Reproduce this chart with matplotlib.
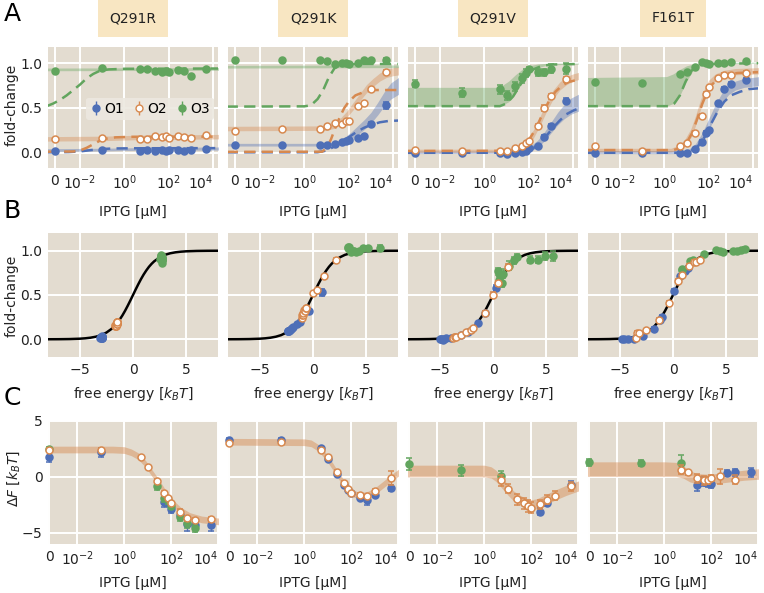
import numpy as np
import matplotlib
matplotlib.use('Agg')
import matplotlib.pyplot as plt

# ---------------- data ----------------
mutants = ['Q291R', 'Q291K', 'Q291V', 'F161T']
operators = ['O1', 'O2', 'O3']
iptg_uM = [0, 0.1, 5, 10, 25, 50, 75, 100, 250, 500, 1000, 5000]
nan = float('nan')

# measured fold-change (panel A / B y-values)
fc_Q291R_O1 = [0.02, 0.03, 0.02, 0.03, 0.02, 0.03, 0.02, 0.03, 0.03, 0.02, 0.03, 0.04]
fc_Q291R_O2 = [0.15, 0.16, 0.15, 0.15, 0.19, 0.18, 0.19, 0.17, 0.19, 0.18, 0.17, 0.20]
fc_Q291R_O3 = [0.91, 0.95, 0.94, 0.94, 0.91, 0.90, 0.91, 0.90, 0.92, 0.91, 0.86, 0.93]
fc_Q291K_O1 = [0.09, 0.09, 0.09, 0.09, 0.10, 0.12, 0.13, 0.14, 0.17, 0.19, 0.32, 0.53]
fc_Q291K_O2 = [0.24, 0.27, 0.27, 0.30, 0.33, 0.32, 0.35, 0.35, 0.52, 0.56, 0.71, 0.90]
fc_Q291K_O3 = [1.03, 1.04, 1.04, 1.02, 0.99, 1.00, 1.00, 0.99, 1.00, 1.03, 1.03, 1.03]
fc_Q291V_O1 = [0.00, 0.00, 0.00, -0.01, 0.00, 0.01, 0.02, 0.05, 0.08, 0.18, 0.30, 0.58]
fc_Q291V_O2 = [0.03, 0.02, 0.025, 0.025, 0.05, 0.08, 0.11, 0.13, 0.30, 0.50, 0.63, 0.82]
fc_Q291V_O3 = [0.77, 0.67, 0.71, 0.64, 0.74, 0.83, 0.89, 0.93, 0.90, 0.90, 0.94, 0.94]
fc_F161T_O1 = [0.00, 0.00, 0.00, 0.00, 0.04, 0.12, 0.22, 0.25, 0.55, 0.71, 0.77, 0.81]
fc_F161T_O2 = [0.07, 0.02, 0.07, 0.11, 0.22, 0.41, 0.66, 0.73, 0.83, 0.87, 0.87, 0.89]
fc_F161T_O3 = [0.79, 0.78, 0.88, 0.90, 0.96, 1.01, 1.00, 0.99, 1.00, 1.00, 1.01, 1.02]

err_Q291R_O1 = [0.01, 0.01, 0.01, 0.01, 0.01, 0.01, 0.01, 0.01, 0.01, 0.01, 0.01, 0.01]
err_Q291R_O2 = [0.01, 0.01, 0.01, 0.01, 0.01, 0.01, 0.01, 0.01, 0.01, 0.01, 0.01, 0.01]
err_Q291R_O3 = [0.01, 0.01, 0.01, 0.01, 0.01, 0.01, 0.01, 0.01, 0.01, 0.01, 0.01, 0.01]
err_Q291K_O1 = [0.01, 0.01, 0.01, 0.01, 0.01, 0.01, 0.01, 0.01, 0.01, 0.01, 0.02, 0.04]
err_Q291K_O2 = [0.01, 0.01, 0.01, 0.01, 0.01, 0.01, 0.01, 0.01, 0.01, 0.01, 0.01, 0.02]
err_Q291K_O3 = [0.01, 0.01, 0.01, 0.01, 0.01, 0.01, 0.01, 0.01, 0.01, 0.01, 0.01, 0.03]
err_Q291V_O1 = [0.01, 0.01, 0.01, 0.01, 0.01, 0.01, 0.01, 0.01, 0.01, 0.02, 0.02, 0.03]
err_Q291V_O2 = [0.01, 0.01, 0.01, 0.01, 0.01, 0.01, 0.01, 0.01, 0.02, 0.03, 0.03, 0.03]
err_Q291V_O3 = [0.04, 0.05, 0.05, 0.05, 0.05, 0.05, 0.04, 0.03, 0.04, 0.04, 0.05, 0.06]
err_F161T_O1 = [0.01, 0.01, 0.01, 0.01, 0.01, 0.02, 0.02, 0.02, 0.02, 0.02, 0.02, 0.02]
err_F161T_O2 = [0.02, 0.01, 0.01, 0.01, 0.02, 0.02, 0.02, 0.02, 0.02, 0.02, 0.02, 0.02]
err_F161T_O3 = [0.01, 0.01, 0.01, 0.01, 0.01, 0.01, 0.01, 0.01, 0.01, 0.01, 0.01, 0.02]

# inferred free energy [kBT] (panel B x-values)
F_Q291R_O1 = [-3.1, -3.0, -3.0, -3.0, -2.95, -2.95, -2.95, -2.95, -2.95, -2.9, -2.9, -2.9]
F_Q291R_O2 = [-1.7, -1.65, -1.6, -1.6, -1.55, -1.55, -1.55, -1.55, -1.55, -1.5, -1.5, -1.5]
F_Q291R_O3 = [2.5, 2.6, 2.65, 2.65, 2.7, 2.7, 2.7, 2.7, 2.7, 2.7, 2.7, 2.7]
F_Q291K_O1 = [-2.4, -2.4, -2.35, -2.3, -2.2, -2.1, -2.0, -1.9, -1.5, -1.2, -0.4, 0.8]
F_Q291K_O2 = [-1.05, -1.0, -0.95, -0.9, -0.85, -0.8, -0.7, -0.65, 0.0, 0.4, 1.0, 2.2]
F_Q291K_O3 = [3.3, 3.3, 3.35, 3.4, 3.6, 3.8, 3.9, 4.0, 4.3, 4.7, 5.2, 6.3]
F_Q291V_O1 = [-5.0, -4.9, -4.8, -4.7, -4.6, -4.4, -4.0, -3.0, -2.4, -1.4, -0.8, 0.3]
F_Q291V_O2 = [-3.7, -3.8, -3.6, -3.5, -3.0, -2.5, -2.1, -1.9, -0.8, 0.0, 0.5, 1.4]
F_Q291V_O3 = [0.5, 0.6, 0.7, 0.8, 0.9, 1.5, 2.0, 2.3, 3.5, 4.2, 4.9, 5.6]
F_F161T_O1 = [-4.8, -4.6, -4.2, -3.7, -2.8, -1.8, -1.2, -1.0, 0.1, 0.7, 1.1, 1.4]
F_F161T_O2 = [-3.4, -3.5, -3.2, -2.5, -1.3, -0.4, 0.5, 0.8, 1.5, 2.0, 2.2, 2.5]
F_F161T_O3 = [0.8, 0.8, 1.6, 1.9, 2.9, 4.0, 4.4, 4.7, 5.6, 6.0, 6.4, 6.8]

# master curve (panel B), free energy vs fold-change
master_F = [-8, -7, -6, -5, -4.5, -4, -3.5, -3, -2.5, -2, -1.75, -1.5, -1.25, -1, -0.75, -0.5, -0.25,
            0, 0.25, 0.5, 0.75, 1, 1.25, 1.5, 1.75, 2, 2.5, 3, 3.5, 4, 4.5, 5, 6, 7, 8]
master_fc = [0.0003, 0.0009, 0.0025, 0.0067, 0.011, 0.018, 0.029, 0.047, 0.076, 0.119, 0.148, 0.182,
             0.223, 0.269, 0.321, 0.378, 0.438, 0.5, 0.562, 0.622, 0.679, 0.731, 0.777, 0.818, 0.852,
             0.881, 0.924, 0.953, 0.971, 0.982, 0.989, 0.9933, 0.9975, 0.9991, 0.9997]

# delta F (panel C)
dF_Q291R_O1 = [1.8, 2.2, nan, nan, nan, -2.2, -2.3, -2.9, -3.4, -4.2, -4.3, -4.3]
dF_Q291R_O2 = [2.4, 2.45, 1.75, 0.9, -0.35, -1.4, -1.85, -2.35, -3.1, -3.7, -3.85, -3.8]
dF_Q291R_O3 = [2.5, nan, nan, nan, -0.85, -1.9, -2.1, -2.6, -3.6, -4.1, -4.6, nan]
dF_Q291K_O1 = [3.3, 3.3, 2.55, 1.6, 0.3, -0.7, -1.15, -1.45, -1.9, -2.1, -1.6, -1.0]
dF_Q291K_O2 = [3.0, 3.15, 2.45, 1.75, 0.45, -0.55, -1.1, -1.4, -1.6, -1.75, -1.3, -0.1]
dF_Q291K_O3 = [nan, nan, nan, nan, nan, nan, nan, nan, nan, nan, nan, nan]
dF_Q291V_O1 = [nan, nan, nan, nan, nan, nan, nan, nan, -3.1, -2.3, nan, -0.7]
dF_Q291V_O2 = [nan, nan, -0.3, -1.05, -2.0, -2.35, -2.6, -2.75, -2.45, -2.05, -1.7, -0.85]
dF_Q291V_O3 = [1.15, 0.6, 0.1, nan, nan, nan, nan, nan, nan, nan, nan, nan]
dF_F161T_O1 = [nan, nan, nan, nan, -0.7, -0.45, -0.5, -0.65, nan, 0.35, 0.4, 0.4]
dF_F161T_O2 = [nan, nan, 0.65, 0.4, -0.1, -0.3, -0.3, -0.1, 0.05, nan, -0.25, nan]
dF_F161T_O3 = [1.3, 1.25, 1.2, nan, nan, nan, nan, nan, nan, nan, nan, nan]

dFerr_Q291R_O1 = [0.5, 0.4, 0, 0, 0, 0.5, 0.3, 0.3, 0.3, 0.6, 0.4, 0.5]
dFerr_Q291R_O2 = [0.15, 0.15, 0.1, 0.1, 0.15, 0.15, 0.15, 0.2, 0.2, 0.2, 0.2, 0.2]
dFerr_Q291R_O3 = [0.2, 0, 0, 0, 0.3, 0.3, 0.3, 0.3, 0.3, 0.5, 0.3, 0]
dFerr_Q291K_O1 = [0.15, 0.15, 0.15, 0.15, 0.15, 0.15, 0.15, 0.15, 0.2, 0.4, 0.2, 0.3]
dFerr_Q291K_O2 = [0.1, 0.1, 0.15, 0.15, 0.15, 0.15, 0.15, 0.15, 0.15, 0.15, 0.2, 0.6]
dFerr_Q291K_O3 = [0, 0, 0, 0, 0, 0, 0, 0, 0, 0, 0, 0]
dFerr_Q291V_O1 = [0, 0, 0, 0, 0, 0, 0, 0, 0.3, 0.3, 0, 0.3]
dFerr_Q291V_O2 = [0, 0, 0.5, 0.4, 0.5, 0.5, 0.5, 0.5, 0.4, 0.4, 0.4, 0.4]
dFerr_Q291V_O3 = [0.5, 0.5, 0.4, 0, 0, 0, 0, 0, 0, 0, 0, 0]
dFerr_F161T_O1 = [0, 0, 0, 0, 0.6, 0.4, 0.4, 0.3, 0, 0.3, 0.3, 0.4]
dFerr_F161T_O2 = [0, 0, 0.4, 0.2, 0.4, 0.4, 0.3, 0.3, 0.7, 0, 0.4, 0]
dFerr_F161T_O3 = [0.3, 0.3, 0.8, 0, 0, 0, 0, 0, 0, 0, 0, 0]

# model curves: (log10 IPTG, lower, upper) for bands, (log10 IPTG, value) for dashed
band_Q291R_O1 = [(-3.5, 0.015, 0.045), (-1.0, 0.02, 0.05), (0.0, 0.025, 0.055), (4.3, 0.03, 0.065)]
band_Q291R_O2 = [(-3.5, 0.13, 0.18), (-1.0, 0.135, 0.185), (0.5, 0.145, 0.195), (4.3, 0.155, 0.205)]
band_Q291R_O3 = [(-3.5, 0.915, 0.945), (4.3, 0.92, 0.95)]
dash_Q291R_O1 = [(-3.5, 0.005), (-2.5, 0.008), (-2.0, 0.015), (-1.5, 0.03), (-1.0, 0.042), (-0.5, 0.048),
                 (0.5, 0.05), (4.3, 0.052)]
dash_Q291R_O2 = [(-3.5, 0.012), (-2.3, 0.014), (-2.0, 0.025), (-1.7, 0.055), (-1.4, 0.095), (-1.1, 0.135),
                 (-0.8, 0.158), (-0.4, 0.172), (0.3, 0.178), (4.3, 0.18)]
dash_Q291R_O3 = [(-3.5, 0.52), (-3.2, 0.55), (-2.9, 0.59), (-2.6, 0.64), (-2.3, 0.70), (-2.0, 0.76),
                 (-1.7, 0.83), (-1.4, 0.88), (-1.1, 0.915), (-0.7, 0.93), (0.0, 0.937), (4.3, 0.94)]

band_Q291K_O1 = [(-3.5, 0.075, 0.105), (0.8, 0.075, 0.105), (1.2, 0.08, 0.115), (1.5, 0.09, 0.13),
                 (1.8, 0.11, 0.17), (2.1, 0.15, 0.23), (2.4, 0.20, 0.30), (2.7, 0.26, 0.37),
                 (3.0, 0.33, 0.45), (3.3, 0.42, 0.56), (3.6, 0.52, 0.68), (3.9, 0.60, 0.78), (4.3, 0.66, 0.85)]
band_Q291K_O2 = [(-3.5, 0.245, 0.295), (1.0, 0.25, 0.30), (1.3, 0.27, 0.32), (1.6, 0.32, 0.38),
                 (1.9, 0.39, 0.46), (2.2, 0.48, 0.56), (2.5, 0.58, 0.66), (2.8, 0.67, 0.76),
                 (3.1, 0.74, 0.83), (3.4, 0.80, 0.89), (3.7, 0.84, 0.93), (4.0, 0.86, 0.95), (4.3, 0.87, 0.96)]
band_Q291K_O3 = [(-3.5, 0.945, 0.975), (4.3, 0.95, 0.98)]
dash_Q291K_O1 = [(-3.5, 0.005), (0.6, 0.006), (0.9, 0.02), (1.2, 0.05), (1.5, 0.09), (1.8, 0.14),
                 (2.1, 0.19), (2.4, 0.24), (2.7, 0.28), (3.0, 0.31), (3.4, 0.34), (3.8, 0.355), (4.3, 0.36)]
dash_Q291K_O2 = [(-3.5, 0.01), (0.8, 0.012), (1.0, 0.05), (1.2, 0.15), (1.4, 0.28), (1.6, 0.40),
                 (1.8, 0.50), (2.0, 0.57), (2.3, 0.64), (2.7, 0.68), (3.2, 0.70), (4.3, 0.70)]
dash_Q291K_O3 = [(-3.5, 0.515), (0.0, 0.518), (0.3, 0.53), (0.6, 0.60), (0.85, 0.70), (1.1, 0.84),
                 (1.35, 0.94), (1.6, 0.98), (2.0, 0.99), (4.3, 0.99)]

band_Q291V_O1 = [(-3.5, -0.01, 0.02), (1.5, -0.005, 0.02), (1.8, 0.0, 0.04), (2.1, 0.02, 0.08),
                 (2.4, 0.06, 0.14), (2.7, 0.13, 0.23), (3.0, 0.22, 0.34), (3.3, 0.31, 0.45),
                 (3.6, 0.38, 0.54), (3.9, 0.43, 0.61), (4.3, 0.47, 0.66)]
band_Q291V_O2 = [(-3.5, 0.005, 0.04), (1.0, 0.005, 0.04), (1.3, 0.01, 0.05), (1.6, 0.03, 0.08),
                 (1.9, 0.07, 0.14), (2.2, 0.16, 0.25), (2.5, 0.30, 0.40), (2.8, 0.46, 0.57),
                 (3.1, 0.60, 0.70), (3.4, 0.70, 0.79), (3.7, 0.76, 0.85), (4.0, 0.80, 0.88), (4.3, 0.82, 0.90)]
band_Q291V_O3 = [(-3.5, 0.52, 0.73), (0.5, 0.52, 0.73), (0.8, 0.53, 0.75), (1.1, 0.57, 0.80),
                 (1.4, 0.66, 0.87), (1.7, 0.79, 0.93), (2.0, 0.89, 0.97), (2.4, 0.95, 0.99),
                 (2.9, 0.98, 1.0), (4.3, 0.99, 1.0)]
dash_Q291V_O1 = [(-3.5, 0.0), (1.6, 0.0), (1.9, 0.02), (2.2, 0.05), (2.5, 0.11), (2.8, 0.19),
                 (3.1, 0.28), (3.4, 0.36), (3.7, 0.43), (4.0, 0.47), (4.3, 0.50)]
dash_Q291V_O2 = [(-3.5, 0.02), (1.1, 0.022), (1.4, 0.035), (1.7, 0.07), (2.0, 0.14), (2.3, 0.26),
                 (2.6, 0.42), (2.9, 0.57), (3.2, 0.68), (3.5, 0.75), (3.8, 0.79), (4.3, 0.82)]
dash_Q291V_O3 = [(-3.5, 0.52), (0.7, 0.52), (1.0, 0.55), (1.3, 0.63), (1.6, 0.75), (1.9, 0.86),
                 (2.2, 0.93), (2.6, 0.97), (3.1, 0.985), (4.3, 0.99)]

band_F161T_O1 = [(-3.5, -0.01, 0.025), (0.8, -0.01, 0.025), (1.1, 0.0, 0.04), (1.4, 0.03, 0.10),
                 (1.7, 0.10, 0.22), (2.0, 0.25, 0.38), (2.3, 0.42, 0.54), (2.6, 0.56, 0.67),
                 (2.9, 0.65, 0.75), (3.2, 0.70, 0.80), (3.6, 0.73, 0.83), (4.3, 0.75, 0.85)]
band_F161T_O2 = [(-3.5, 0.01, 0.05), (0.3, 0.01, 0.05), (0.6, 0.03, 0.08), (0.9, 0.07, 0.14),
                 (1.2, 0.17, 0.27), (1.4, 0.30, 0.41), (1.6, 0.46, 0.57), (1.8, 0.61, 0.71),
                 (2.0, 0.72, 0.81), (2.3, 0.80, 0.88), (2.7, 0.85, 0.92), (3.2, 0.87, 0.94), (4.3, 0.88, 0.95)]
band_F161T_O3 = [(-3.5, 0.52, 0.84), (0.1, 0.52, 0.85), (0.4, 0.55, 0.88), (0.7, 0.64, 0.93),
                 (1.0, 0.80, 0.97), (1.3, 0.92, 0.99), (1.6, 0.97, 1.0), (2.0, 0.99, 1.01), (4.3, 1.0, 1.01)]
dash_F161T_O1 = [(-3.5, 0.0), (0.9, 0.0), (1.2, 0.02), (1.5, 0.07), (1.8, 0.17), (2.1, 0.32),
                 (2.4, 0.46), (2.7, 0.57), (3.0, 0.64), (3.4, 0.68), (3.8, 0.71), (4.3, 0.72)]
dash_F161T_O2 = [(-3.5, 0.03), (0.4, 0.03), (0.7, 0.05), (1.0, 0.11), (1.25, 0.22), (1.5, 0.39),
                 (1.7, 0.54), (1.9, 0.66), (2.1, 0.75), (2.4, 0.82), (2.8, 0.87), (3.3, 0.89), (4.3, 0.90)]
dash_F161T_O3 = [(-3.5, 0.52), (0.2, 0.52), (0.45, 0.55), (0.7, 0.64), (0.95, 0.79), (1.2, 0.91),
                 (1.5, 0.97), (1.9, 0.99), (4.3, 1.0)]

# delta F bands (panel C)
dFband_Q291R = [(-3.5, 2.15, 2.75), (-0.5, 2.15, 2.75), (0.0, 2.1, 2.7), (0.3, 1.9, 2.5), (0.6, 1.55, 2.15),
                (0.9, 0.9, 1.5), (1.2, 0.0, 0.6), (1.5, -0.9, -0.3), (1.8, -1.9, -1.3), (2.1, -2.7, -2.1),
                (2.4, -3.3, -2.7), (2.8, -3.8, -3.2), (3.3, -4.1, -3.5), (3.9, -4.25, -3.65), (4.1, -4.3, -3.7)]
dFband_Q291K = [(-3.5, 2.85, 3.45), (0.0, 2.8, 3.4), (0.3, 2.7, 3.3), (0.6, 2.3, 2.9), (0.9, 1.6, 2.2),
                (1.2, 0.7, 1.3), (1.5, -0.3, 0.3), (1.8, -1.2, -0.6), (2.1, -1.8, -1.2), (2.4, -2.0, -1.4),
                (2.7, -1.9, -1.3), (3.0, -1.6, -1.0), (3.3, -1.1, -0.5), (3.6, -0.6, 0.0), (3.9, -0.1, 0.5),
                (4.1, 0.2, 0.8)]
dFband_Q291V = [(-3.5, 0.0, 1.05), (0.0, 0.0, 1.05), (0.3, -0.1, 0.9), (0.5, -0.4, 0.6), (0.75, -1.0, 0.0),
                (1.0, -1.6, -0.7), (1.25, -2.15, -1.25), (1.5, -2.5, -1.6), (1.75, -2.8, -1.9),
                (2.0, -2.95, -2.05), (2.25, -2.85, -1.95), (2.5, -2.6, -1.7), (3.0, -2.1, -1.2),
                (3.5, -1.65, -0.75), (4.1, -1.2, -0.3)]
dFband_F161T = [(-3.5, 0.05, 1.35), (0.0, 0.05, 1.35), (0.5, 0.05, 1.3), (0.8, -0.1, 1.0), (1.1, -0.45, 0.55),
                (1.4, -0.6, 0.3), (1.8, -0.65, 0.25), (2.2, -0.6, 0.3), (2.8, -0.45, 0.45),
                (3.4, -0.3, 0.6), (4.1, -0.2, 0.75)]

# ---------------- tables built from the lists above ----------------
g = globals()
fc = {(m, o): g[f'fc_{m}_{o}'] for m in mutants for o in operators}
fc_err = {(m, o): g[f'err_{m}_{o}'] for m in mutants for o in operators}
Fe = {(m, o): g[f'F_{m}_{o}'] for m in mutants for o in operators}
dF = {(m, o): g[f'dF_{m}_{o}'] for m in mutants for o in operators}
dF_err = {(m, o): g[f'dFerr_{m}_{o}'] for m in mutants for o in operators}
bands = {(m, o): g[f'band_{m}_{o}'] for m in mutants for o in operators}
dashes = {(m, o): g[f'dash_{m}_{o}'] for m in mutants for o in operators}
dF_bands = {m: g[f'dFband_{m}'] for m in mutants}

# ---------------- style ----------------
colors = {'O1': '#4e6fb7', 'O2': '#d7894f', 'O3': '#62a55e'}
zorders = {'O1': 4, 'O2': 6, 'O3': 5}
bg = '#E3DCD0'
title_bg = '#F8E6C2'
txt = '#222222'
plt.rcParams['font.family'] = ['DejaVu Sans']
plt.rcParams['mathtext.fontset'] = 'dejavusans'

W, H = 764, 593
fig = plt.figure(figsize=(W / 100, H / 100), dpi=100)
fig.patch.set_facecolor('white')

cols_px = [(48, 218), (228, 398), (408, 578), (588, 758)]
rows_px = {'A': (47, 168), 'B': (233, 357), 'C': (421, 544)}

ZERO_A = 10 ** -3.13
ZERO_C = 10 ** -3.2
XLIM_A = (10 ** -3.44, 10 ** 4.22)
XLIM_C = (10 ** -3.25, 10 ** 4.0)


def make_ax(row, col):
    (t, b) = rows_px[row]
    (l, r) = cols_px[col]
    ax = fig.add_axes([l / W, 1 - b / H, (r - l) / W, (b - t) / H])
    ax.set_facecolor(bg)
    for s in ax.spines.values():
        s.set_visible(False)
    ax.grid(True, color='white', lw=1.4)
    ax.set_axisbelow(True)
    ax.tick_params(length=0, labelsize=10, colors=txt, pad=4)
    return ax


def xpos(conc, zero):
    return [zero if c == 0 else c for c in conc]


def style_log_axis(ax, zero, xlim):
    ax.set_xscale('log')
    ax.set_xlim(*xlim)
    ax.set_xticks([zero, 1e-2, 1e0, 1e2, 1e4])
    ax.set_xticklabels(['0', '$10^{-2}$', '$10^{0}$', '$10^{2}$', '$10^{4}$'])
    ax.minorticks_off()
    ax.get_xticklabels()[-1].set_horizontalalignment('right')


def points(ax, x, y, err, op, ms=5):
    c = colors[op]
    ax.errorbar(x, y, yerr=err, fmt='o', ms=ms, color=c,
                mfc='white' if op == 'O2' else c, mec=c, mew=1.1,
                capsize=2, elinewidth=1, capthick=1, zorder=zorders[op], clip_on=False,
                lw=0)


for j, m in enumerate(mutants):
    l, r = cols_px[j]
    # ---------- row A ----------
    ax = make_ax('A', j)
    style_log_axis(ax, ZERO_A, XLIM_A)
    ax.set_ylim(-0.17, 1.18)
    ax.set_yticks([0, 0.5, 1.0])
    for o in operators:
        bx = [10 ** p[0] for p in bands[(m, o)]]
        ax.fill_between(bx, [p[1] for p in bands[(m, o)]], [p[2] for p in bands[(m, o)]],
                        color=colors[o], alpha=0.38, lw=0, zorder=2)
        ax.plot([10 ** p[0] for p in dashes[(m, o)]], [p[1] for p in dashes[(m, o)]],
                ls=(0, (4.5, 2.5)), color=colors[o], lw=1.8, zorder=3)
    for o in operators:
        points(ax, xpos(iptg_uM, ZERO_A), fc[(m, o)], fc_err[(m, o)], o)
    if j == 0:
        ax.set_yticklabels(['0.0', '0.5', '1.0'])
        for o in operators:
            ax.errorbar([], [], yerr=[], fmt='o', ms=5, color=colors[o],
                        mfc='white' if o == 'O2' else colors[o], mec=colors[o],
                        capsize=2, elinewidth=1, label=o)
        leg = ax.legend(loc='center', bbox_to_anchor=(0.6, 0.49), ncol=3, fontsize=10,
                        handletextpad=0.2, columnspacing=0.7, handlelength=0.8,
                        frameon=True, borderpad=0.3, borderaxespad=0)
        leg.get_frame().set_facecolor('#ECE8E0')
        leg.get_frame().set_edgecolor('none')
        leg.get_frame().set_alpha(0.9)
    else:
        ax.set_yticklabels([])
    fig.text((l + r) / 2 / W, 1 - 18 / H, m, ha='center', va='center', fontsize=10, color=txt,
             bbox=dict(boxstyle='square,pad=0.85', fc=title_bg, ec='none'))
    fig.text((l + r) / 2 / W, 1 - 212 / H, 'IPTG [µM]', ha='center', va='center', fontsize=10,
             color=txt)

    # ---------- row B ----------
    ax = make_ax('B', j)
    ax.set_xlim(-8, 8)
    ax.set_ylim(-0.2, 1.2)
    ax.set_xticks([-5, 0, 5])
    ax.set_xticklabels(['$-5$', '0', '5'])
    ax.set_yticks([0, 0.5, 1.0])
    ax.plot(master_F, master_fc, color='black', lw=1.8, zorder=3)
    for o in operators:
        points(ax, Fe[(m, o)], fc[(m, o)], fc_err[(m, o)], o)
    if j == 0:
        ax.set_yticklabels(['0.0', '0.5', '1.0'])
    else:
        ax.set_yticklabels([])
    fig.text((l + r) / 2 / W, 1 - 394 / H, 'free energy [$k_BT$]', ha='center', va='center',
             fontsize=10, color=txt)

    # ---------- row C ----------
    ax = make_ax('C', j)
    style_log_axis(ax, ZERO_C, XLIM_C)
    ax.set_ylim(-6, 5)
    ax.set_yticks([-5, 0, 5])
    band = dF_bands[m]
    ax.fill_between([10 ** p[0] for p in band], [p[1] for p in band], [p[2] for p in band],
                    color=colors['O2'], alpha=0.45, lw=0, zorder=2)
    for o in operators:
        points(ax, xpos(iptg_uM, ZERO_C), dF[(m, o)], dF_err[(m, o)], o)
    if j == 0:
        ax.set_yticklabels(['$-5$', '0', '5'])
    else:
        ax.set_yticklabels([])
    fig.text((l + r) / 2 / W, 1 - 583 / H, 'IPTG [µM]', ha='center', va='center', fontsize=10,
             color=txt)

# y labels
fig.text(12 / W, 1 - 105 / H, 'fold-change', rotation=90, ha='center', va='center', fontsize=10,
         color=txt)
fig.text(12 / W, 1 - 296 / H, 'fold-change', rotation=90, ha='center', va='center', fontsize=10,
         color=txt)
fig.text(14 / W, 1 - 478 / H, '$\\Delta F$ [$k_BT$]', rotation=90, ha='center', va='center',
         fontsize=10, color=txt)

# panel letters
for letter, y in [('A', 14), ('B', 211), ('C', 398)]:
    fig.text(12 / W, 1 - y / H, letter, ha='center', va='center', fontsize=18, color='black')

fig.savefig('out.png', dpi=100, facecolor='white')
